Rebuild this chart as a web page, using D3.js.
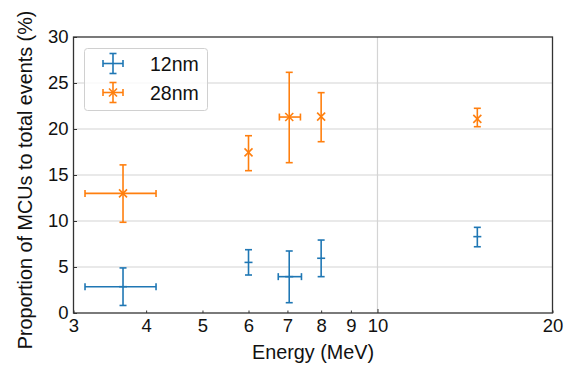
<!DOCTYPE html>
<html><head><meta charset="utf-8">
<script src="https://cdn.jsdelivr.net/npm/d3@7"></script>
<style>body{margin:0;background:#fff}svg{display:block}text{font-family:"Liberation Sans",Arial,Helvetica,sans-serif}</style>
</head><body>
<svg id="c" width="574" height="367"></svg>
<script>
// Data
const series = ["12nm", "28nm"];
const colors = ["#1f77b4", "#ff7f0e"];
const energy12 = [3.65, 6.0, 7.05, 8.0, 14.85];
const value12 = [2.86, 5.5, 3.95, 5.95, 8.3];
const yLow12 = [0.82, 4.13, 1.12, 3.95, 7.2];
const yHigh12 = [4.9, 6.88, 6.74, 7.93, 9.31];
const xLow12 = [3.14, null, 6.75, null, null];
const xHigh12 = [4.16, null, 7.4, null, null];
const energy28 = [3.65, 6.0, 7.05, 8.0, 14.85];
const value28 = [13.0, 17.46, 21.3, 21.35, 21.1];
const yLow28 = [9.86, 15.47, 16.34, 18.62, 20.25];
const yHigh28 = [16.1, 19.27, 26.16, 23.95, 22.25];
const xLow28 = [3.14, null, 6.78, null, null];
const xHigh28 = [4.16, null, 7.37, null, null];
const xTickLabels = [3, 4, 5, 6, 7, 8, 9, 10, 20];
const yTicks = [0, 5, 10, 15, 20, 25, 30];

const svg = d3.select("#c");
const L = 73.5, R = 552.5, T = 37, B = 313;
const x = d3.scaleLog().domain([3, 20]).range([L, R]);
const y = d3.scaleLinear().domain([0, 30]).range([B, T]);

// grid
const g = svg.append("g");
g.selectAll(".hg").data(yTicks.filter(v => v > 0 && v < 30)).join("line")
  .attr("x1", L).attr("x2", R).attr("y1", d => y(d)).attr("y2", d => y(d))
  .attr("stroke", "#d4d4d4").attr("stroke-width", 1.2);
g.append("line").attr("x1", x(10)).attr("x2", x(10)).attr("y1", T).attr("y2", B)
  .attr("stroke", "#d4d4d4").attr("stroke-width", 1.2);

// axes
const xAxis = d3.axisBottom(x).tickValues(xTickLabels).tickFormat(d3.format("d"))
  .tickSizeInner(-3).tickSizeOuter(0).tickPadding(3);
const xa = svg.append("g").attr("transform", `translate(0,${B})`).call(xAxis);
xa.selectAll(".tick line").attr("y2", d => d === 10 ? -4 : -2.5);
const yAxis = d3.axisLeft(y).tickValues(yTicks).tickSizeInner(-3.5).tickSizeOuter(0).tickPadding(5);
const ya = svg.append("g").attr("transform", `translate(${L},0)`).call(yAxis);
[xa, ya].forEach(a => {
  a.select(".domain").remove();
  a.selectAll(".tick line").attr("stroke", "#333").attr("stroke-width", 1);
  a.selectAll(".tick text").attr("font-size", 18.5).attr("fill", "#111")
   .style("font-family", '"Liberation Sans", Arial, sans-serif');
});
xa.selectAll(".tick text").attr("dy", "0.85em");

// frame
svg.append("rect").attr("x", L).attr("y", T).attr("width", R - L).attr("height", B - T)
  .attr("fill", "none").attr("stroke", "#333").attr("stroke-width", 1.3);

// labels
svg.append("text").attr("x", (L + R) / 2).attr("y", 359).attr("text-anchor", "middle")
  .attr("font-size", 19.8).attr("fill", "#111").text("Energy (MeV)");
svg.append("text").attr("transform", `translate(32,180) rotate(-90)`)
  .attr("text-anchor", "middle").attr("font-size", 19.8).attr("fill", "#111")
  .text("Proportion of MCUs to total events (%)");

// error bars
const cap = 3.5, lw = 1.6;
function drawSeries(en, val, yl, yh, xl, xh, color, marker) {
  const s = svg.append("g").attr("stroke", color).attr("stroke-width", lw).attr("fill", "none");
  en.forEach((e, i) => {
    const cx = x(e), cy = y(val[i]);
    s.append("line").attr("x1", cx).attr("x2", cx).attr("y1", y(yl[i])).attr("y2", y(yh[i]));
    [yl[i], yh[i]].forEach(v => s.append("line").attr("x1", cx - cap).attr("x2", cx + cap).attr("y1", y(v)).attr("y2", y(v)));
    if (xl[i] != null) {
      s.append("line").attr("x1", x(xl[i])).attr("x2", x(xh[i])).attr("y1", cy).attr("y2", cy);
      [xl[i], xh[i]].forEach(v => s.append("line").attr("x1", x(v)).attr("x2", x(v)).attr("y1", cy - cap).attr("y2", cy + cap));
    }
    drawMarker(s, cx, cy, marker);
  });
}
function drawMarker(s, cx, cy, marker) {
  const m = 4;
  if (marker === "x") {
    s.append("line").attr("x1", cx - m).attr("x2", cx + m).attr("y1", cy - m).attr("y2", cy + m);
    s.append("line").attr("x1", cx - m).attr("x2", cx + m).attr("y1", cy + m).attr("y2", cy - m);
  } else {
    s.append("line").attr("x1", cx - m).attr("x2", cx + m).attr("y1", cy).attr("y2", cy);
  }
}
drawSeries(energy12, value12, yLow12, yHigh12, xLow12, xHigh12, colors[0], "+");
drawSeries(energy28, value28, yLow28, yHigh28, xLow28, xHigh28, colors[1], "x");

// legend
const lg = svg.append("g");
lg.append("rect").attr("x", 84.5).attr("y", 48.5).attr("width", 123).attr("height", 62).attr("rx", 3)
  .attr("fill", "#fff").attr("fill-opacity", 0.8).attr("stroke", "#d0d0d0").attr("stroke-width", 1);
series.forEach((name, i) => {
  const cy = 63.5 + i * 29, cx = 113;
  const s = lg.append("g").attr("stroke", colors[i]).attr("stroke-width", lw);
  s.append("line").attr("x1", cx - 10).attr("x2", cx + 10).attr("y1", cy).attr("y2", cy);
  s.append("line").attr("x1", cx).attr("x2", cx).attr("y1", cy - 10).attr("y2", cy + 10);
  [cx - 10, cx + 10].forEach(v => s.append("line").attr("x1", v).attr("x2", v).attr("y1", cy - cap).attr("y2", cy + cap));
  [cy - 10, cy + 10].forEach(v => s.append("line").attr("x1", cx - cap).attr("x2", cx + cap).attr("y1", v).attr("y2", v));
  if (i === 1) drawMarker(s, cx, cy, "x");
  lg.append("text").attr("x", 150).attr("y", cy + 7.5).attr("font-size", 19.5).attr("fill", "#111").text(name);
});
</script>
</body></html>
